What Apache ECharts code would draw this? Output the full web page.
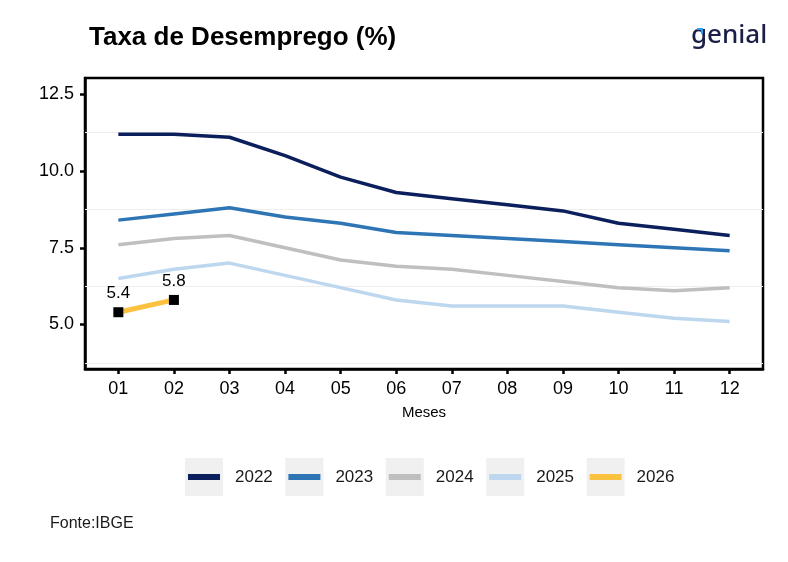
<!DOCTYPE html>
<html>
<head>
<meta charset="utf-8">
<script src="https://cdn.jsdelivr.net/npm/echarts@6/dist/echarts.min.js"></script>
<style>
html,body{margin:0;padding:0;background:#fff;}
#c{width:788px;height:562px;}
</style>
</head>
<body>
<div id="c"></div>
<script>
const months = ['01','02','03','04','05','06','07','08','09','10','11','12'];
const yTicks = [5, 7.5, 10, 12.5];
const minorGrid = [3.75, 6.25, 8.75, 11.25];
const years = ['2022','2023','2024','2025','2026'];
const colors = ['#0b1f5c','#2e75b6','#bfbfbf','#bdd7ee','#fcc23f'];
const v2022 = [11.2, 11.2, 11.1, 10.5, 9.8, 9.3, 9.1, 8.9, 8.7, 8.3, 8.1, 7.9];
const v2023 = [8.4, 8.6, 8.8, 8.5, 8.3, 8.0, 7.9, 7.8, 7.7, 7.6, 7.5, 7.4];
const v2024 = [7.6, 7.8, 7.9, 7.5, 7.1, 6.9, 6.8, 6.6, 6.4, 6.2, 6.1, 6.2];
const v2025 = [6.5, 6.8, 7.0, 6.6, 6.2, 5.8, 5.6, 5.6, 5.6, 5.4, 5.2, 5.1];
const v2026 = [5.4, 5.8];
const values = [v2022, v2023, v2024, v2025, v2026];

const FONT = 'Liberation Sans, Arial, sans-serif';
const chart = echarts.init(document.getElementById('c'), null, {renderer:'canvas'});

const series = values.map((vals, i) => {
  const isLast = i === values.length - 1;
  const s = {
    name: years[i],
    type: 'line',
    data: vals.map((v, j) => [j + 1, v]),
    lineStyle: {color: colors[i], width: isLast ? 5 : 3.5},
    itemStyle: {color: isLast ? '#000' : colors[i]},
    symbol: isLast ? 'rect' : 'none',
    symbolSize: 10,
    showSymbol: isLast,
    z: 10 - i,
    animation: false,
    label: isLast ? {show: true, position: 'top', distance: 5, color: '#000', fontSize: 17, fontFamily: FONT, formatter: p => p.value[1].toFixed(1)} : {show:false}
  };
  if (i === 0) {
    s.markLine = {
      silent: true, symbol: 'none', animation: false,
      label: {show: false},
      lineStyle: {color: '#eeeeee', width: 1, type: 'solid'},
      data: minorGrid.map(y => ({yAxis: y}))
    };
  }
  return s;
});

const legendGraphics = [];
years.forEach((y, i) => {
  const x0 = 185 + i * 100.4;
  legendGraphics.push({type:'rect', left: x0, top: 458, shape:{width:38, height:38}, style:{fill:'#f0f0f0'}, silent:true});
  legendGraphics.push({type:'rect', left: x0 + 3, top: 474, shape:{width:32, height:6}, style:{fill: colors[i]}, silent:true});
  legendGraphics.push({type:'text', left: x0 + 50, top: 469, style:{text: y, fill:'#1a1a1a', font: '17px ' + FONT}, silent:true});
});

chart.setOption({
  backgroundColor: '#fff',
  animation: false,
  title: {
    text: 'Taxa de Desemprego (%)',
    left: 84, top: 20,
    textStyle: {fontSize: 26, fontWeight: 'bold', color: '#000', fontFamily: FONT}
  },
  grid: {left: 85, right: 25, top: 78, bottom: 193, show: true, borderColor: '#000', borderWidth: 2.5, backgroundColor: '#fff'},
  xAxis: {
    type: 'value', min: 0.4, max: 12.6,
    name: 'Meses', nameLocation: 'middle', nameGap: 36,
    nameTextStyle: {fontSize: 15, color: '#000', fontFamily: FONT},
    axisLine: {show: true, lineStyle: {color: '#000', width: 2.5}},
    axisTick: {show: true, length: 5, lineStyle: {color: '#000', width: 2.5}, customValues: months.map((m, j) => j + 1)},
    axisLabel: {color: '#000', fontSize: 18, fontFamily: FONT, margin: 11, customValues: months.map((m, j) => j + 1), formatter: v => months[Math.round(v) - 1]},
    splitLine: {show: false}
  },
  yAxis: {
    type: 'value', min: 3.55, max: 13.03,
    axisLine: {show: true, lineStyle: {color: '#000', width: 2.5}},
    axisTick: {show: true, length: 5, lineStyle: {color: '#000', width: 2.5}, customValues: yTicks},
    axisLabel: {color: '#000', fontSize: 18, fontFamily: FONT, margin: 11, customValues: yTicks, formatter: v => v.toFixed(1)},
    splitLine: {show: false}
  },
  series: series,
  graphic: [
    ...legendGraphics,
    {type:'text', left: 50, top: 516, style:{text:'Fonte:IBGE', fill:'#1a1a1a', font:'16px ' + FONT}, silent:true},
    {type:'text', left: 691, top: 23, style:{text:'genial', fill:'#1b1f45', font:'500 26px "Noto Sans", sans-serif'}, silent:true},
    {type:'polyline', shape:{points:[[697,29],[702,29],[702,34]]}, style:{stroke:'#2a9df4', lineWidth:2, fill:null}, silent:true}
  ]
});
</script>
</body>
</html>
